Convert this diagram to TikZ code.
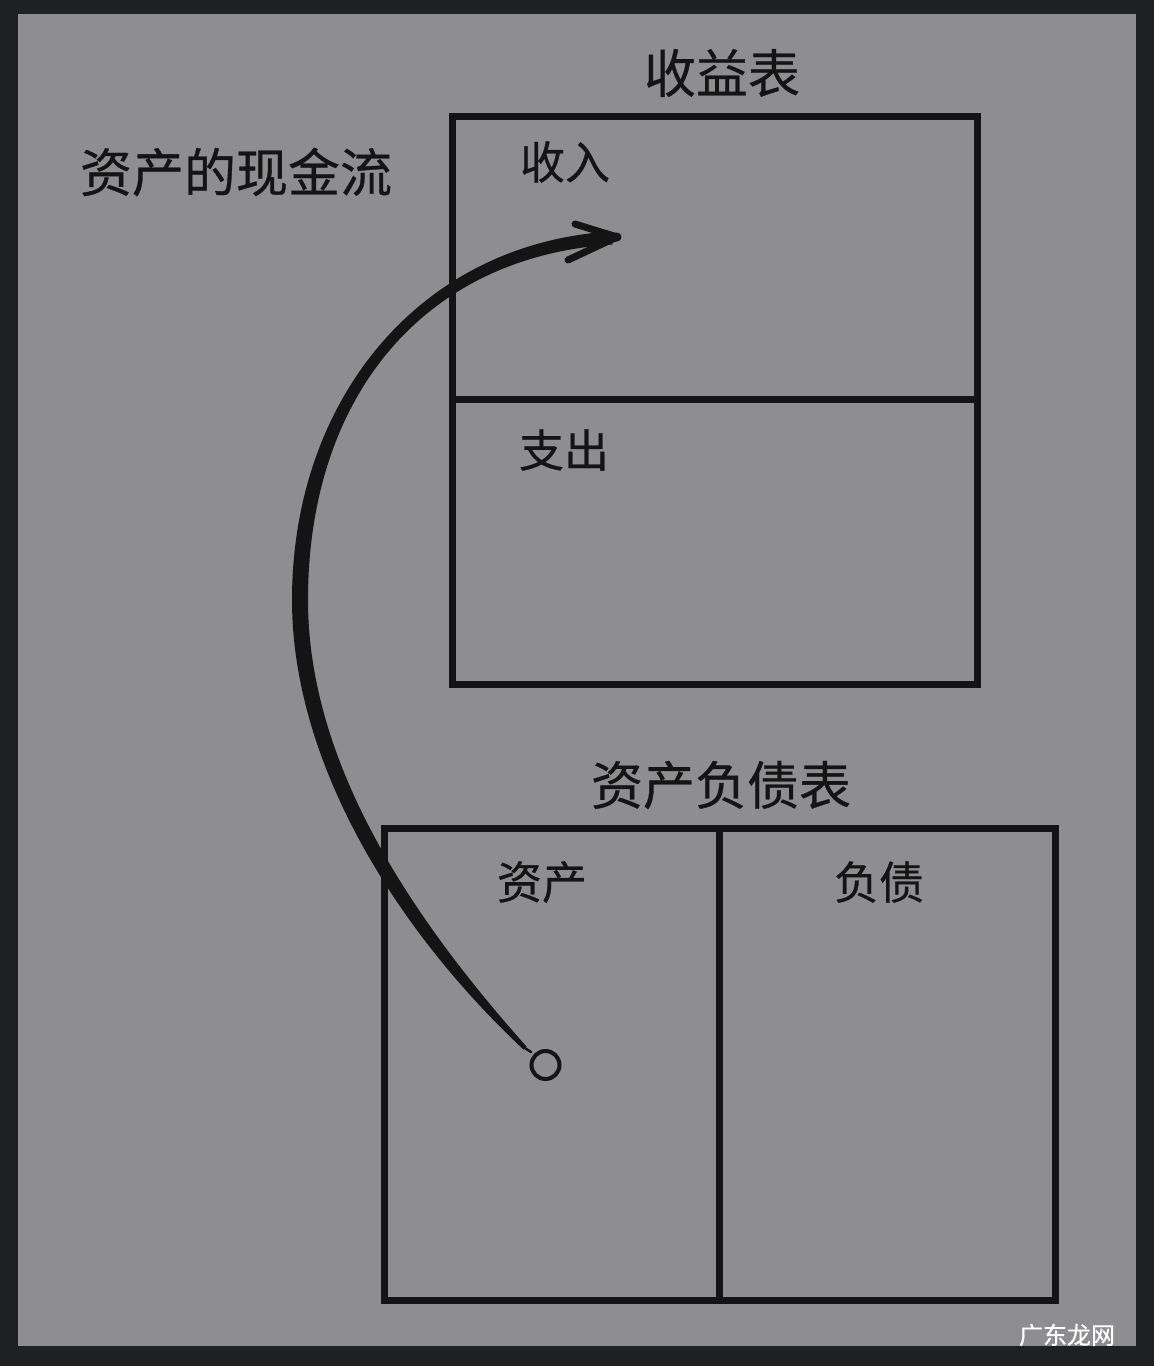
\documentclass[tikz,border=0pt]{standalone}
\usepackage{fontspec}
\newfontfamily\cjk[FakeBold=0.6]{Noto Sans CJK SC}
\definecolor{frame}{HTML}{1F2023}
\definecolor{paper}{HTML}{8E8E90}
\definecolor{ink}{HTML}{141414}
\tikzset{
  title/.style={font=\cjk\fontsize{52}{62}\selectfont, text=ink, inner sep=0pt},
  label/.style={font=\cjk\fontsize{45}{54}\selectfont, text=ink, inner sep=0pt},
  panel/.style={draw=ink, line width=7pt},
}
\begin{document}
\begin{tikzpicture}[x=1pt,y=-1pt]
\useasboundingbox (0,0) rectangle (1154,1366);
\fill[frame] (0,0) rectangle (1154,1366);
\fill[paper] (18,14) rectangle (1136,1346);

% income statement
\draw[panel] (452,116) rectangle (977,684);
\draw[panel] (452,399) -- (977,399);
% balance sheet
\draw[panel] (384,828) rectangle (1055,1300);
\draw[panel] (719,828) -- (719,1300);

\node[title] (t1) at (722,73) {收益表};
\node[title] (t2) at (236,172) {资产的现金流};
\node[label] (inc) at (565,162) {收入};
\node[label] (exp) at (564,450) {支出};
\node[title] (t3) at (721,785) {资产负债表};
\node[label] (ast) at (542,882) {资产};
\node[label] (lia) at (879,882) {负债};

% circle
\node[draw=ink, line width=4pt, circle, minimum size=28pt, inner sep=0pt] (c) at (545.5,1065) {};
\coordinate (tail) at (525,1048);
\coordinate (tip) at (617,237);

% brush stroke arrow
\fill[ink] (523.5,1049.5) .. controls (392.8,927) and (292,760) .. (292,600)
  .. controls (292,400) and (419.6,243) .. (611.6,231.5)
  -- (612.4,244.5)
  .. controls (420.4,257) and (308,400) .. (308,600)
  .. controls (308,760) and (407.2,913) .. (526.5,1046.5) -- cycle;
\draw[ink, line width=2.5pt, line cap=round] (tail) -- (531,1052);
\draw[ink, line width=7pt, line cap=round] (575,224) -- (tip);
\draw[ink, line width=7pt, line cap=round] (568,260) -- (tip);
\draw[ink, line width=9pt, line cap=round] (590,238) -- (tip);

% watermark
\node[font=\cjk\fontsize{24}{28}\selectfont, text=white, inner sep=0pt] (wm) at (1067,1335) {广东龙网};
\end{tikzpicture}
\end{document}
